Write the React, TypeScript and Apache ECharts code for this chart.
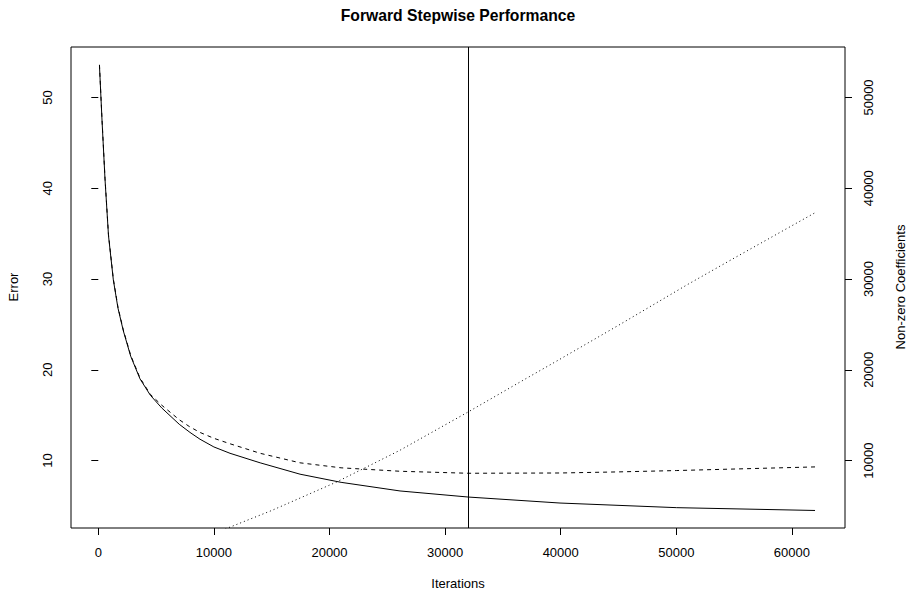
import React, { useEffect, useRef } from "react";
import * as echarts from "echarts";

// Training error (solid)
const trainIter = [100, 320, 580, 880, 1300, 1700, 2163, 2800, 3607, 4500, 5484, 7000, 7932, 8798, 10000, 11393, 14000, 17450, 21000, 26100, 32000, 39940, 50035, 62000];
const trainError = [53.5, 47.5, 41.0, 34.8, 29.9, 26.8, 24.3, 21.5, 19.0, 17.2, 15.8, 14.0, 13.1, 12.35, 11.5, 10.8, 9.75, 8.5, 7.6, 6.65, 5.98, 5.32, 4.81, 4.5];

// Test error (dashed)
const testIter = [100, 320, 580, 880, 1300, 1700, 2163, 2800, 3607, 4500, 5484, 7000, 7932, 8798, 10000, 11393, 14000, 17450, 21000, 26100, 32000, 39940, 45000, 50035, 56000, 62000];
const testError = [53.6, 47.6, 41.1, 34.9, 30.0, 26.9, 24.4, 21.6, 19.1, 17.3, 16.1, 14.5, 13.7, 13.1, 12.45, 11.85, 10.8, 9.75, 9.2, 8.82, 8.6, 8.63, 8.75, 8.9, 9.1, 9.3];

// Non-zero coefficients (dotted, right axis)
const coefIter = [100, 5000, 10000, 11400, 15000, 20620, 24370, 26100, 32000, 36765, 39940, 45000, 50900, 55000, 62000];
const coefCount = [60, 800, 2000, 2670, 4500, 7640, 10030, 11140, 15360, 18860, 21170, 24900, 29340, 32300, 37300];

const xTicks = [0, 10000, 20000, 30000, 40000, 50000, 60000];
const errorTicks = [10, 20, 30, 40, 50];
const coefTicks = [10000, 20000, 30000, 40000, 50000];
const cutoffIteration = 32000;

const FONT = "'Liberation Sans', Arial, Helvetica, sans-serif";

export default function App() {
  const ref = useRef<HTMLDivElement>(null);
  useEffect(() => {
    if (!ref.current) return;
    const chart = echarts.init(ref.current, undefined, { renderer: "svg" });
    const zip = (xs: number[], ys: number[]) => xs.map((x, i) => [x, ys[i]]);
    const tickStyle = { show: true, length: 7, lineStyle: { color: "#000", width: 1 } };
    chart.setOption({
      animation: false,
      backgroundColor: "#fff",
      textStyle: { fontFamily: FONT },
      grid: {
        left: 71,
        right: 63,
        top: 47,
        bottom: 62,
        show: true,
        borderColor: "#000",
        borderWidth: 1,
        backgroundColor: "transparent",
        containLabel: false,
        outerBoundsMode: "none",
      },
      xAxis: {
        type: "value",
        min: -2362,
        max: 64593,
        axisLine: { show: false },
        splitLine: { show: false },
        axisTick: { ...tickStyle, customValues: xTicks },
        axisLabel: {
          customValues: xTicks,
          fontSize: 13,
          color: "#000",
          fontFamily: FONT,
          margin: 18,
          formatter: (v: number) => String(v),
        },
      },
      yAxis: [
        {
          type: "value",
          min: 2.57,
          max: 55.56,
          position: "left",
          axisLine: { show: false },
          splitLine: { show: false },
          axisTick: { ...tickStyle, customValues: errorTicks },
          axisLabel: {
            customValues: errorTicks,
            fontSize: 13,
            color: "#000",
            fontFamily: FONT,
            rotate: 90,
            margin: 17,
            formatter: (v: number) => String(v),
          },
        },
        {
          type: "value",
          min: 2570,
          max: 55560,
          position: "right",
          axisLine: { show: false },
          splitLine: { show: false },
          axisTick: { ...tickStyle, customValues: coefTicks },
          axisLabel: {
            customValues: coefTicks,
            fontSize: 13,
            color: "#000",
            fontFamily: FONT,
            rotate: 90,
            margin: 17,
            formatter: (v: number) => String(v),
          },
        },
      ],
      graphic: [
        {
          type: "text",
          x: 458,
          y: 15,
          style: {
            text: "Forward Stepwise Performance",
            font: `bold 15.7px ${FONT}`,
            fill: "#000",
            textAlign: "center",
            textVerticalAlign: "middle",
          },
        },
        {
          type: "text",
          x: 458,
          y: 583,
          style: {
            text: "Iterations",
            font: `13px ${FONT}`,
            fill: "#000",
            textAlign: "center",
            textVerticalAlign: "middle",
          },
        },
        {
          type: "text",
          x: 13,
          y: 287,
          rotation: Math.PI / 2,
          style: {
            text: "Error",
            font: `13px ${FONT}`,
            fill: "#000",
            textAlign: "center",
            textVerticalAlign: "middle",
          },
        },
        {
          type: "text",
          x: 900,
          y: 287,
          rotation: Math.PI / 2,
          style: {
            text: "Non-zero Coefficients",
            font: `13px ${FONT}`,
            fill: "#000",
            textAlign: "center",
            textVerticalAlign: "middle",
          },
        },
      ],
      series: [
        {
          name: "Training error",
          type: "line",
          yAxisIndex: 0,
          data: zip(trainIter, trainError),
          showSymbol: false,
          symbol: "none",
          smooth: false,
          clip: true,
          lineStyle: { color: "#000", width: 1, type: "solid" },
          markLine: {
            silent: true,
            symbol: "none",
            label: { show: false },
            lineStyle: { color: "#000", width: 1, type: "solid" },
            data: [{ xAxis: cutoffIteration }],
          },
        },
        {
          name: "Test error",
          type: "line",
          yAxisIndex: 0,
          data: zip(testIter, testError),
          showSymbol: false,
          symbol: "none",
          smooth: false,
          clip: true,
          lineStyle: { color: "#000", width: 1, type: [4, 4] },
        },
        {
          name: "Non-zero coefficients",
          type: "line",
          yAxisIndex: 1,
          data: zip(coefIter, coefCount),
          showSymbol: false,
          symbol: "none",
          smooth: false,
          clip: true,
          lineStyle: { color: "#000", width: 1, type: [1, 3] },
        },
      ],
    });
    return () => chart.dispose();
  }, []);
  return <div ref={ref} style={{ width: 908, height: 590, position: "absolute", left: 0, top: 0 }} />;
}
